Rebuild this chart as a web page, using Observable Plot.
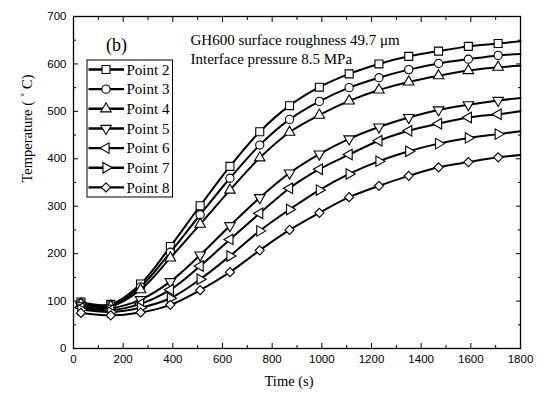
<!DOCTYPE html>
<html><head><meta charset="utf-8">
<script src="https://cdn.jsdelivr.net/npm/d3@7"></script>
<script src="https://cdn.jsdelivr.net/npm/@observablehq/plot@0.6"></script>
<style>
html,body{margin:0;padding:0;background:#fff;}
#wrap{position:relative;width:543px;height:394px;}
#wrap svg{position:absolute;left:0;top:0;}
</style></head><body><div id="wrap"></div>
<script>
// ---- data ----
const times = [30, 150, 270, 390, 510, 630, 750, 870, 990, 1110, 1230, 1350, 1470, 1590, 1710];
const endTime = 1800;
const seriesNames = ["Point 2", "Point 3", "Point 4", "Point 5", "Point 6", "Point 7", "Point 8"];
const point2 = [98, 93, 136, 215, 301, 384, 457, 512, 551, 579, 600, 616, 627, 637, 643];
const point3 = [96, 91, 130, 203, 282, 359, 429, 483, 521, 550, 571, 588, 601, 610, 618];
const point4 = [94, 89, 124, 191, 262, 334, 402, 456, 492, 522, 545, 562, 575, 586, 593];
const point5 = [90, 85, 103, 141, 197, 259, 318, 370, 410, 442, 467, 487, 503, 514, 523];
const point6 = [86, 81, 94, 124, 174, 230, 285, 338, 378, 409, 438, 459, 474, 487, 494];
const point7 = [82, 77, 86, 106, 146, 195, 248, 293, 334, 368, 395, 416, 432, 444, 452];
const point8 = [75, 70, 76, 92, 123, 161, 207, 250, 286, 319, 343, 364, 382, 393, 403];
const endValues = [648, 621, 596, 528, 500, 458, 408];
const xTicks = [0, 200, 400, 600, 800, 1000, 1200, 1400, 1600, 1800];
const xMinor = [100, 300, 500, 700, 900, 1100, 1300, 1500, 1700];
const yTicks = [0, 100, 200, 300, 400, 500, 600, 700];
const yMinor = [50, 150, 250, 350, 450, 550, 650];
const panelLabel = "(b)";
const noteLine1 = "GH600 surface roughness 49.7 \u03bcm";
const noteLine2 = "Interface pressure 8.5 MPa";
const xLabel = "Time (s)";
const yLabel = "Temperature ( \u02da C)";

// ---- styles ----
const seriesValues = [point2, point3, point4, point5, point6, point7, point8];
const markerStyle = [
  {symbol: "square", r: 4.5, rotate: 0},
  {symbol: "circle", r: 4.1, rotate: 0},
  {symbol: "triangle", r: 3.9, rotate: 0},
  {symbol: "triangle", r: 3.9, rotate: 180},
  {symbol: "triangle", r: 3.9, rotate: -90},
  {symbol: "triangle", r: 3.9, rotate: 90},
  {symbol: "diamond2", r: 4.1, rotate: 0}
];

const lineRows = [];
seriesNames.forEach((s, k) => {
  times.forEach((t, i) => lineRows.push({series: s, t, v: seriesValues[k][i]}));
  lineRows.push({series: s, t: endTime, v: endValues[k]});
});

const serif = "'Liberation Serif', 'Times New Roman', serif";
const plain = d3.format("d");
const blank = () => "";
const marks = [
  Plot.axisX(xTicks, {tickSize: 0, tickPadding: 6, label: null, fontSize: 11.5, tickFormat: plain}),
  Plot.axisX(xTicks, {tickSize: -5, tickFormat: blank, label: null}),
  Plot.axisX(xMinor, {tickSize: -3, tickFormat: blank, label: null}),
  Plot.axisX(xTicks, {anchor: "top", tickSize: -5, tickFormat: blank, label: null}),
  Plot.axisX(xMinor, {anchor: "top", tickSize: -3, tickFormat: blank, label: null}),
  Plot.axisY(yTicks, {tickSize: 0, tickPadding: 7, label: null, fontSize: 11.5, tickFormat: plain}),
  Plot.axisY(yTicks, {tickSize: -5, tickFormat: blank, label: null}),
  Plot.axisY(yMinor, {tickSize: -3, tickFormat: blank, label: null}),
  Plot.axisY(yTicks, {anchor: "right", tickSize: -5, tickFormat: blank, label: null}),
  Plot.axisY(yMinor, {anchor: "right", tickSize: -3, tickFormat: blank, label: null}),
  Plot.frame({stroke: "black", strokeWidth: 1.3}),
];
seriesNames.forEach((s, k) => {
  const rows = lineRows.filter(d => d.series === s);
  marks.push(Plot.line(rows, {x: "t", y: "v", curve: "catmull-rom", stroke: "black", strokeWidth: 2}));
  const m = markerStyle[k];
  marks.push(Plot.dot(rows.filter(d => d.t !== endTime), {x: "t", y: "v", symbol: m.symbol, r: m.r, rotate: m.rotate, fill: "white", stroke: "black", strokeWidth: 1.1}));
});
marks.push(
  Plot.text([panelLabel], {frameAnchor: "top-left", dx: 43, dy: 22, textAnchor: "middle", fontSize: 18, fontFamily: serif, fill: "black"}),
  Plot.text([noteLine1], {frameAnchor: "top-left", dx: 117, dy: 18, textAnchor: "start", fontSize: 15, fontFamily: serif, fill: "black"}),
  Plot.text([noteLine2], {frameAnchor: "top-left", dx: 117, dy: 37, textAnchor: "start", fontSize: 15, fontFamily: serif, fill: "black"}),
  Plot.text([xLabel], {frameAnchor: "bottom", dx: -8, dy: 37, fontSize: 14.5, fontFamily: serif, fill: "black"}),
  Plot.text([yLabel], {frameAnchor: "left", dx: -46, rotate: -90, fontSize: 14.5, fontFamily: serif, fill: "black"})
);

const chart = Plot.plot({
  width: 543, height: 394,
  marginLeft: 73, marginRight: 23, marginTop: 16, marginBottom: 46,
  x: {domain: [0, 1800]},
  y: {domain: [0, 700]},
  style: {fontFamily: "'Liberation Sans', Arial, sans-serif", fontSize: "11.5px", background: "white", color: "black", overflow: "visible"},
  marks
});
const wrap = document.getElementById("wrap");
wrap.appendChild(chart);

// ---- legend overlay ----
const ov = d3.select(wrap).append("svg").attr("width", 543).attr("height", 394).style("pointer-events", "none");
const lx0 = 87, ly0 = 60, rowH = 19.65;
ov.append("rect").attr("x", lx0).attr("y", ly0).attr("width", 85.5).attr("height", 137)
  .attr("fill", "white").attr("stroke", "black").attr("stroke-width", 1);
const symMap = {square: d3.symbolSquare, circle: d3.symbolCircle, triangle: d3.symbolTriangle, diamond2: d3.symbolDiamond2};
seriesNames.forEach((s, k) => {
  const cy = ly0 + 9.5 + k * rowH;
  const m = markerStyle[k];
  ov.append("line").attr("x1", lx0 + 1.5).attr("x2", lx0 + 37).attr("y1", cy).attr("y2", cy)
    .attr("stroke", "black").attr("stroke-width", 2.4);
  ov.append("path").attr("d", d3.symbol(symMap[m.symbol], Math.PI * m.r * m.r)())
    .attr("transform", `translate(${lx0 + 19},${cy}) rotate(${m.rotate})`)
    .attr("fill", "white").attr("stroke", "black").attr("stroke-width", 1.1);
  ov.append("text").attr("x", lx0 + 39.5).attr("y", cy).attr("dy", "0.35em")
    .attr("font-family", serif).attr("font-size", 15).text(s);
});
</script></body></html>
